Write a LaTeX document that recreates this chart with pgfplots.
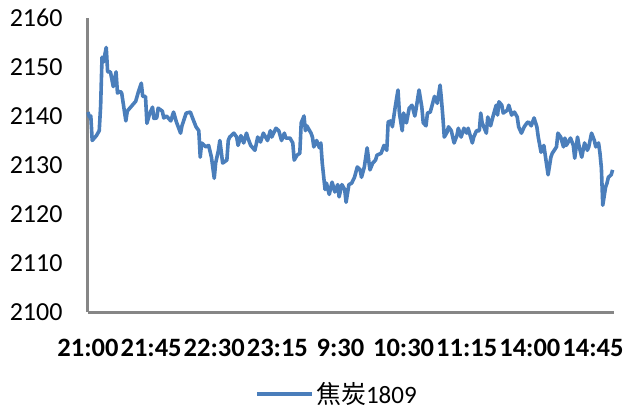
\documentclass[border=0pt]{standalone}
\usepackage{pgfplots}
\pgfplotsset{compat=1.18}
\usepackage{fontspec}
\setmainfont{Carlito}
\newfontfamily\cjk{Noto Sans CJK SC}
\definecolor{lineblue}{HTML}{4A7EBB}
\definecolor{axgray}{HTML}{868686}
\begin{document}
\begin{tikzpicture}
\path[use as bounding box] (0,0) rectangle (624pt,-412pt);
\begin{axis}[
  at={(88pt,-312pt)}, anchor=south west,
  scale only axis,
  width=526pt, height=294pt,
  xmin=0, xmax=375,
  ymin=2100, ymax=2160,
  ytick={2100,2110,...,2160},
  xtick={0,45,90,135,180,225,270,315,360},
  xticklabels={21:00,21:45,22:30,23:15,9:30,10:30,11:15,14:00,14:45},
  axis lines*=left,
  axis line style={axgray, line width=3pt},
  major tick length=0pt,
  /pgf/number format/assume math mode=true,
  /pgf/number format/1000 sep={},
  tick label style={font=\fontsize{26}{28}\selectfont, text=black},
  xticklabel style={font=\fontsize{26.5}{28}\selectfont\bfseries, yshift=-24pt},
  yticklabel style={xshift=-22pt},
  clip=false,
  legend style={draw=none, fill=none, at={(axis description cs:0.318,-0.278)}, anchor=west,
    inner sep=0pt, font=\fontsize{25}{27}\selectfont},
  legend image code/.code={\draw[#1] (0pt,0pt) -- (55pt,0pt);},
]
\addplot[lineblue, line width=3.6pt, line join=round] coordinates {
(0,2140.8) (1,2139.8) (2,2140) (3,2135) (6,2136) (8,2137) (9,2142) (10,2152)
(11,2151) (13,2154) (14,2149) (16,2149) (18,2146) (20,2149) (21,2144.7) (23,2145)
(24,2144.7) (27,2139) (28,2141) (31,2142) (34,2143) (36,2145) (38,2146.7) (39,2144)
(41,2144) (42,2138.5) (44,2140.5) (46,2141.8) (47,2139.5) (49,2139.6) (50,2141.6) (53,2141)
(54,2139.6) (56,2140) (59,2139) (61,2140.8) (63,2138.8) (66,2136.5) (67,2138) (70,2140.6)
(73,2140.8) (74,2140) (77,2137.8) (79,2137) (80,2131.6) (81,2134.5) (84,2133.7) (86,2134)
(88,2131.6) (90,2127.3) (91,2130.4) (93,2133) (94,2135) (96,2130.4) (99,2131) (100,2135)
(101,2135.7) (104,2136.5) (106,2135.7) (107,2134) (109,2136) (111,2134.5) (113,2136.5) (114,2135.5)
(116,2134) (119,2133) (121,2135.7) (123,2134.7) (125,2136.5) (128,2135) (130,2137) (131,2135.7)
(134,2137.5) (136,2137) (138,2135) (140,2136.5) (141,2135.5) (144,2135.5) (146,2134.5) (147,2131)
(149,2132) (151,2132.4) (152,2138.6) (154,2140) (155,2137) (156,2138) (159,2136.5) (160,2135.7)
(161,2133.7) (163,2135) (165,2133.5) (166,2134.5) (167,2130.4) (169,2125) (170,2126.3) (172,2124)
(174,2126.5) (176,2124.5) (178,2126) (179,2123.5) (181,2126) (183,2125) (184,2122.4) (186,2126)
(188,2126.3) (190,2127.5) (192,2129.6) (194,2129) (195,2127.5) (197,2129.6) (199,2133.5) (201,2129)
(203,2130.4) (205,2131) (206,2132) (209,2132.4) (211,2134) (213,2133) (214,2138.8) (216,2139)
(217,2137.8) (219,2141.8) (221,2145.3) (222,2140.6) (224,2137) (225,2140.6) (227,2138.6) (229,2141.6)
(231,2142.2) (233,2140) (234,2141.6) (236,2145.3) (238,2141.8) (239,2138.6) (241,2138) (242,2140.6)
(244,2140.8) (246,2142.9) (247,2144) (249,2142.6) (251,2146.3) (252,2143.3) (253,2139.8) (254,2135.7)
(256,2136.7) (257,2137.8) (259,2137) (261,2134.5) (263,2136) (264,2137.5) (266,2135.7) (268,2137.5)
(270,2136.5) (271,2137.5) (274,2134.5) (275,2135.7) (277,2137) (279,2137) (280,2140.6) (281,2138.6)
(284,2136.5) (285,2139.8) (287,2138) (289,2140.2) (291,2142.2) (292,2140.2) (293,2142.9) (295,2142.2)
(296,2140.6) (299,2141.2) (300,2142.2) (302,2140.2) (304,2140.8) (306,2139.8) (307,2137.8) (309,2136.5)
(311,2137.8) (313,2138.6) (314,2138.8) (316,2138) (318,2139.6) (320,2137.8) (321,2135.7) (323,2132.6)
(325,2134) (326,2132) (328,2128) (330,2131.6) (331,2132.4) (334,2133.7) (335,2136.5) (337,2135.7)
(339,2133.7) (340,2135.5) (341,2134) (344,2135.5) (346,2134) (347,2131.4) (349,2135.7) (350,2134)
(352,2131.6) (354,2134.5) (356,2133) (357,2133.7) (359,2136.5) (361,2135) (362,2133.7) (364,2134.5)
(365,2132.4) (366,2129.4) (367,2121.8) (369,2125.5) (370,2126.3) (371,2127.5) (373,2128) (374,2129)
};
\addlegendentry{{\cjk 焦炭}1809}
\end{axis}
\end{tikzpicture}
\end{document}
